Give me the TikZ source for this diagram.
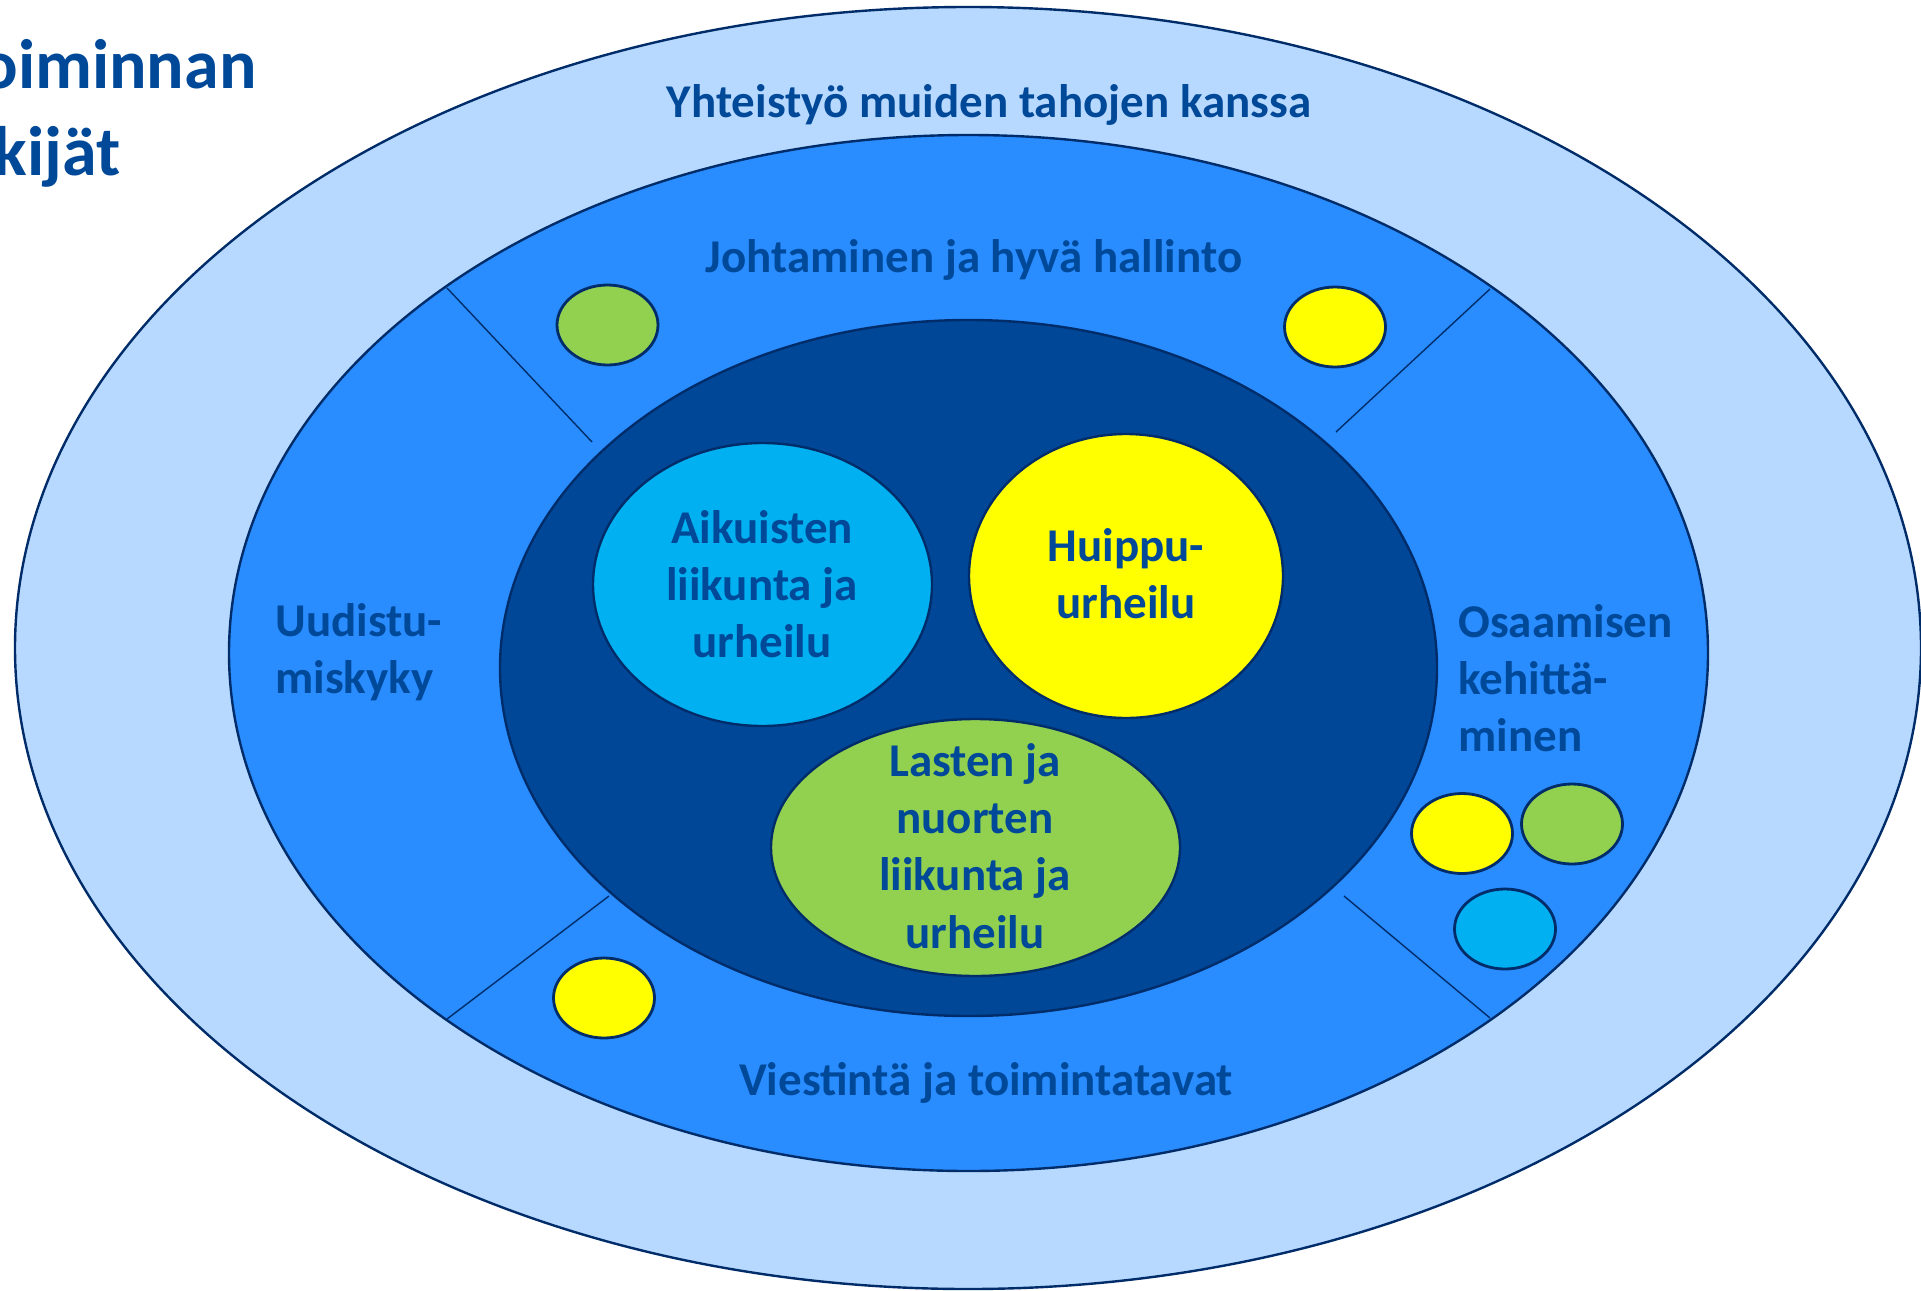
\documentclass[tikz,border=0pt]{standalone}
\usepackage{fontspec}
\setmainfont{Carlito}
\usetikzlibrary{shapes.geometric}
\definecolor{lightring}{RGB}{184,217,255}
\definecolor{midring}{RGB}{41,140,255}
\definecolor{darkcore}{RGB}{0,71,152}
\definecolor{cyanfill}{RGB}{0,176,240}
\definecolor{yellowfill}{RGB}{255,255,0}
\definecolor{greenfill}{RGB}{146,208,80}
\definecolor{edgecol}{RGB}{0,45,105}
\definecolor{txtcol}{RGB}{0,72,152}
\begin{document}
\begin{tikzpicture}[x=0.5pt,y=-0.5pt,
  ring/.style={ellipse, draw=edgecol, line width=1.2pt, inner sep=0pt, outer sep=0pt},
  dot/.style={ellipse, draw=edgecol, line width=1.4pt, inner sep=0pt, outer sep=0pt, minimum width=50.5pt, minimum height=40pt},
  lbl/.style={text=txtcol, font=\bfseries\fontsize{23.5}{28.6}\selectfont, align=center, inner sep=0pt},
  ttl/.style={text=txtcol, font=\bfseries\fontsize{35}{43}\selectfont, inner sep=0pt},
  divider/.style={draw=edgecol, line width=0.7pt}]
\useasboundingbox (0,0) rectangle (1921,1290);
\clip (0,0) rectangle (1921,1290);
\fill[white] (0,0) rectangle (1921,1290);

% rings
\node[ring, fill=lightring, minimum width=953pt, minimum height=641pt] (outer) at (968,648) {};
\node[ring, fill=midring, minimum width=739.5pt, minimum height=518pt] (middle) at (968.5,653) {};
\node[ring, fill=darkcore, minimum width=468.5pt, minimum height=348pt] (core) at (968.5,668) {};

% dividers
\coordinate (tlA) at (447,288);  \coordinate (tlB) at (592,442);
\coordinate (trA) at (1490,289); \coordinate (trB) at (1336,432);
\coordinate (brA) at (1490,1018);\coordinate (brB) at (1344,896);
\coordinate (blA) at (447,1019); \coordinate (blB) at (609,896);
\draw[divider] (tlA) -- (tlB);
\draw[divider] (trA) -- (trB);
\draw[divider] (brA) -- (brB);
\draw[divider] (blA) -- (blB);

% inner ellipses
\node[ring, fill=cyanfill, minimum width=169.5pt, minimum height=141.5pt] (adult) at (762.5,584.5) {};
\node[ring, fill=yellowfill, minimum width=157pt, minimum height=142pt] (elite) at (1126,576) {};
\node[ring, fill=greenfill, minimum width=204.5pt, minimum height=128.5pt] (youth) at (975.5,847.5) {};

% small dots
\node[dot, fill=greenfill] (d1) at (607.5,325) {};
\node[dot, fill=yellowfill] (d2) at (1335,327) {};
\node[dot, fill=yellowfill] (d3) at (604,998) {};
\node[dot, fill=yellowfill] (d4) at (1462,833.5) {};
\node[dot, fill=greenfill] (d5) at (1572,824) {};
\node[dot, fill=cyanfill] (d6) at (1505,929) {};

% labels
\node[lbl, anchor=base] (tCoop) at (989,117) {Yhteistyö muiden tahojen kanssa};
\node[lbl, anchor=base] (tLead) at (974,272) {Johtaminen ja hyvä hallinto};
\node[lbl, anchor=base] (tComm) at (986,1095) {Viestintä ja toimintatavat};
\node[lbl, anchor=west, align=left] (tRenew) at (275,652) {Uudistu-\\miskyky};
\node[lbl, anchor=west, align=left] (tSkill) at (1458,678) {Osaamisen\\kehittä-\\minen};
\node[lbl] (tAdult) at (762,584) {Aikuisten\\liikunta ja\\urheilu};
\node[lbl] (tElite) at (1126,574) {Huippu-\\urheilu};
\node[lbl] (tYouth) at (975,846) {Lasten ja\\nuorten\\liikunta ja\\urheilu};

% title (cut at the left edge)
\node[ttl, anchor=base east] (title1) at (257,88) {oiminnan};
\node[ttl, anchor=base east] (title2) at (121,175) {kijät};
\end{tikzpicture}
\end{document}
